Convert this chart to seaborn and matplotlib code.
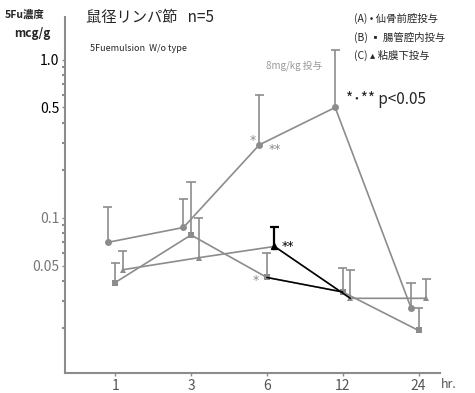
import numpy as np
import pandas as pd
import matplotlib
matplotlib.use("Agg")
import matplotlib.pyplot as plt
import seaborn as sns

hours = ["1", "3", "6", "12", "24"]

# mean and upper end of the error bar (mcg/g)
a_mean = [0.070, 0.087, 0.29, 0.50, 0.027]
a_upper = [0.117, 0.131, 0.60, 1.15, 0.039]
b_mean = [0.039, 0.078, 0.042, 0.034, 0.0194]
b_upper = [0.052, 0.168, 0.060, 0.048, 0.027]
c_mean = [0.047, 0.056, 0.066, 0.031, 0.031]
c_upper = [0.062, 0.100, 0.088, 0.047, 0.041]

series = ["A", "B", "C"]
offsets = {"A": -0.1, "B": 0.0, "C": 0.1}
markers = {"A": "o", "B": "s", "C": "^"}

rows = []
for s, m, u in zip(series, [a_mean, b_mean, c_mean], [a_upper, b_upper, c_upper]):
    for i, h in enumerate(hours):
        rows.append({"series": s, "pos": i + offsets[s], "hour": h, "mean": m[i], "upper": u[i]})
df = pd.DataFrame(rows)

sns.set_style("ticks")
plt.rcParams["font.family"] = ["Noto Sans CJK JP", "DejaVu Sans"]

gray = "#8c8c8c"
fig = plt.figure(figsize=(4.75, 3.93), dpi=100)
ax = fig.add_axes([0.137, 0.051, 0.789, 0.906])

sns.lineplot(data=df, x="pos", y="mean", hue="series", style="series", markers=markers,
             dashes=False, palette={"A": gray, "B": gray, "C": gray}, markersize=5,
             linewidth=1.2, markeredgewidth=0, legend=False, ax=ax, sort=False)

# darker segments between 6 and 12 hr
for s in ["B", "C"]:
    d = df[(df.series == s) & (df.hour.isin(["6", "12"]))]
    ax.plot(d["pos"], d["mean"], color="black", lw=1.1, zorder=3)

# upper error bars with caps
for _, r in df.iterrows():
    col = "black" if (r.series == "C" and r.hour == "6") else gray
    lw = 1.6 if col == "black" else 1.2
    ax.vlines(r.pos, r["mean"], r.upper, color=col, lw=lw)
    ax.hlines(r.upper, r.pos - 0.06, r.pos + 0.06, color=col, lw=lw)
d = df[(df.series == "C") & (df.hour == "6")]
ax.plot(d["pos"], d["mean"], marker="^", color="black", ms=5, zorder=4)

ax.set_yscale("log")
ax.set_ylim(0.01045, 1.87)
ax.set_xlim(-0.66, 4.28)
ax.set_xticks(range(len(hours)))
ax.set_xticklabels(hours, fontsize=10, color="#555555")
ax.set_yticks([0.05, 0.1, 0.5, 1.0])
ax.set_yticklabels(["0.05", "0.1", "0.5", "1.0"], fontsize=10)
for lab, c in zip(ax.get_yticklabels(), ["#777777", "#777777", "black", "black"]):
    lab.set_color(c)
ax.tick_params(axis="both", length=2, width=1, color=gray, pad=2)
ax.tick_params(axis="y", which="minor", length=2, width=1.5, color=gray)
ax.set_xlabel("")
ax.set_ylabel("")
for sp in ["top", "right"]:
    ax.spines[sp].set_visible(False)
for sp in ["left", "bottom"]:
    ax.spines[sp].set_color(gray)
    ax.spines[sp].set_linewidth(1.5)

# texts
fig.text(0.01, 0.955, "5Fu濃度", fontsize=7.5, fontweight="bold")
fig.text(0.03, 0.905, "mcg/g", fontsize=8.5, fontweight="bold")
fig.text(0.18, 0.945, "鼠径リンパ節   n=5", fontsize=11)
fig.text(0.19, 0.87, "5Fuemulsion  W/o type", fontsize=6.5)
fig.text(0.56, 0.825, "8mg/kg 投与", fontsize=7, color="#999999")
fig.text(0.745, 0.945, "(A) • 仙骨前腔投与", fontsize=7.5)
fig.text(0.745, 0.895, "(B) ▪ 腸管腔内投与", fontsize=7.5)
fig.text(0.745, 0.85, "(C) ▴ 粘膜下投与", fontsize=7.5)
fig.text(0.728, 0.735, "*･** p<0.05", fontsize=11)
fig.text(0.928, 0.012, "hr.", fontsize=9, style="italic", color="#555555")

star = dict(family="DejaVu Sans", fontsize=9)
ax.text(1.82, 0.31, "*", color=gray, ha="center", va="center", **star)
ax.text(2.02, 0.27, "**", color=gray, ha="left", va="center", **star)
ax.text(2.2, 0.066, "**", color="black", ha="left", va="center", **star)
ax.text(1.85, 0.040, "*", color=gray, ha="center", va="center", **star)

fig.savefig("out.png", dpi=100)
